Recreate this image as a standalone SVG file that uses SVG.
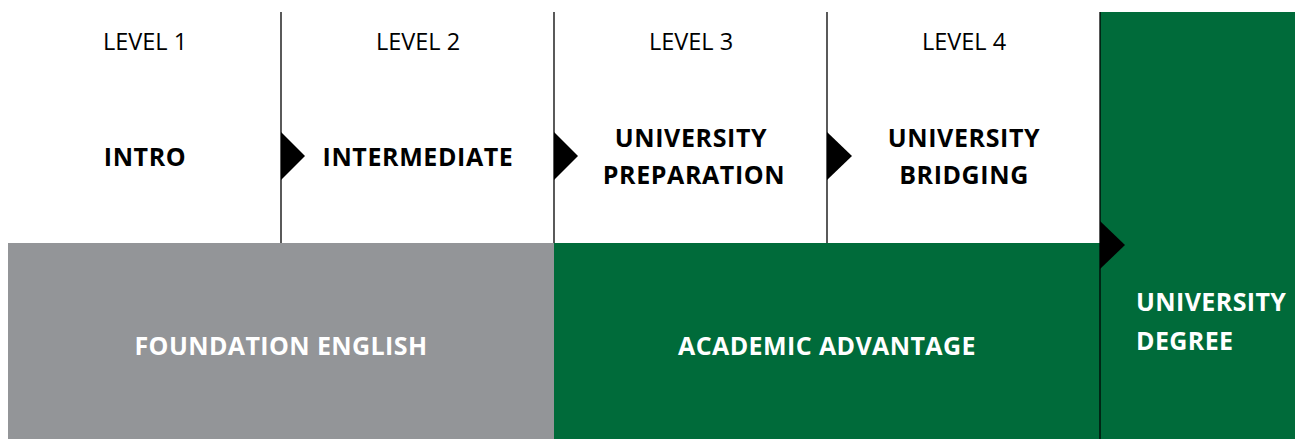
<svg xmlns="http://www.w3.org/2000/svg" width="1295" height="439" viewBox="0 0 1295 439">
<style>
.lvl{font-family:"Open Sans","Noto Sans",sans-serif;font-size:23.5px;fill:#000;text-anchor:middle}
.b{font-family:"Open Sans","Noto Sans",sans-serif;font-size:25px;font-weight:bold;fill:#000;text-anchor:middle;letter-spacing:0.6px}
.w{font-family:"Open Sans","Noto Sans",sans-serif;font-size:25px;font-weight:bold;fill:#fff;letter-spacing:0.4px}
.sep{stroke:#000;stroke-width:1.3}
</style>
<rect width="1295" height="439" fill="#fff"/>
<g id="foundation">
<rect x="8" y="243" width="546" height="196" fill="#939598"/>
<text class="w" x="281" y="355" text-anchor="middle">FOUNDATION ENGLISH</text>
</g>
<g id="academic">
<rect x="554" y="243" width="546" height="196" fill="#006b3a"/>
<text class="w" x="827" y="355" text-anchor="middle">ACADEMIC ADVANTAGE</text>
</g>
<g id="degree">
<rect x="1100" y="12" width="195" height="427" fill="#006b3a"/>
<text class="w" x="1136" y="311">UNIVERSITY</text>
<text class="w" x="1136" y="350">DEGREE</text>
</g>
<g id="level1">
<text class="lvl" x="145" y="50">LEVEL 1</text>
<text class="b" x="145" y="166">INTRO</text>
</g>
<g id="level2">
<text class="lvl" x="418" y="50">LEVEL 2</text>
<text class="b" x="418" y="166">INTERMEDIATE</text>
</g>
<g id="level3">
<text class="lvl" x="691" y="50">LEVEL 3</text>
<text class="b" x="691" y="147">UNIVERSITY</text>
<text class="b" x="694" y="184">PREPARATION</text>
</g>
<g id="level4">
<text class="lvl" x="964" y="50">LEVEL 4</text>
<text class="b" x="964" y="147">UNIVERSITY</text>
<text class="b" x="964" y="184">BRIDGING</text>
</g>
<g id="connectors">
<line class="sep" x1="281" y1="12" x2="281" y2="243"/>
<line class="sep" x1="554" y1="12" x2="554" y2="243"/>
<line class="sep" x1="827" y1="12" x2="827" y2="243"/>
<line class="sep" x1="1100" y1="12" x2="1100" y2="439"/>
<polygon points="281,132 305,156 281,180" fill="#000"/>
<polygon points="554,132 578,156 554,180" fill="#000"/>
<polygon points="827,132 852,156 827,180" fill="#000"/>
<polygon points="1100,221 1125,245 1100,269" fill="#000"/>
</g>
</svg>
